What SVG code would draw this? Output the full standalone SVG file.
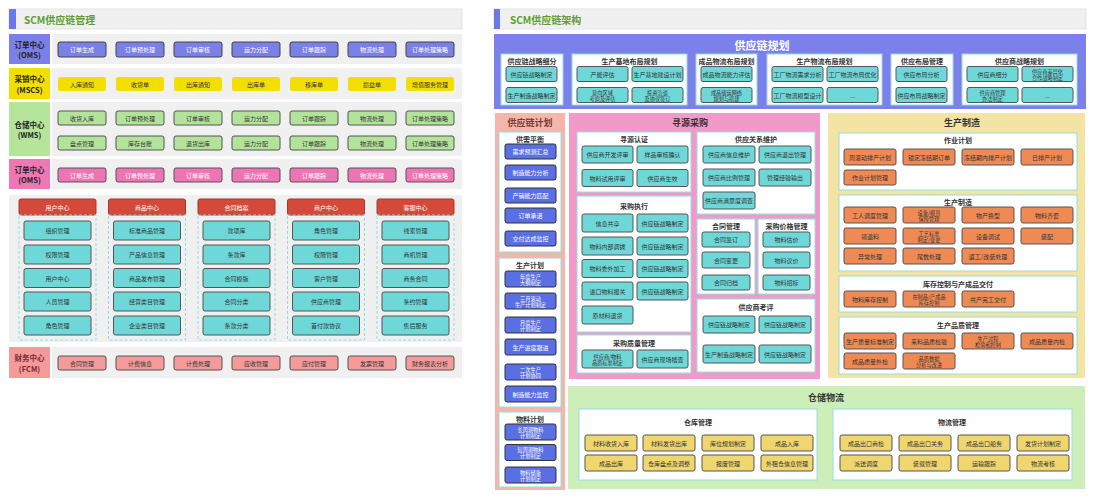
<svg xmlns="http://www.w3.org/2000/svg" width="1095" height="500" viewBox="0 0 1095 500">
<style>
text{font-family:"Noto Sans CJK SC","Noto Sans",sans-serif;text-anchor:middle;dominant-baseline:central;font-size:6px;fill:#333}
.t2{font-size:5.2px}
.w{fill:#fff}
.lbl{font-size:7.5px;font-weight:bold;fill:#222}
.sub{font-size:7px;font-weight:bold;fill:#333}
.big{font-size:9px;font-weight:bold;fill:#333}
.bg{fill:#f0f0f0}
.bb{fill:#7b80e6;stroke:#444;stroke-width:1}
.yb{fill:#f2df00}
.gb{fill:#b3e39a;stroke:#555;stroke-width:1}
.pb{fill:#ee75b4;stroke:#555;stroke-width:1}
.fb{fill:#f39a9a;stroke:#555;stroke-width:1}
.tl{fill:#6ed8d8;stroke:#555;stroke-width:1}
.rh{fill:#d4493a;stroke:#a33a2e;stroke-width:1}
.db{fill:#5b6fe4;stroke:#333;stroke-width:1}
.or{fill:#f08a55;stroke:#555;stroke-width:1}
.gd{fill:#efd66e;stroke:#555;stroke-width:1}
.wb{fill:#fff;stroke:#8fe0e0;stroke-width:1}
.ds{fill:none;stroke:#8fdde3;stroke-width:1;stroke-dasharray:3 2}
</style>
<rect width="1095" height="500" fill="#fff"/>

<!-- LEFT PANEL -->
<g id="left-title">
<rect x="9" y="9" width="453" height="20" fill="#f0f0f0" stroke="#e4e4e4"/>
<rect x="9" y="9" width="7" height="20" fill="#6b78e8"/>
<text x="24" y="19.5" style="text-anchor:start;font-size:10px;font-weight:bold;fill:#5c9e35">SCM供应链管理</text>
</g>

<g id="oms1">
<rect x="9" y="34" width="41" height="30" fill="#7b80e6"/>
<text x="29.5" y="44.5" class="lbl">订单中心</text><text x="29.5" y="54.5" class="lbl">(OMS)</text>
<rect x="52" y="34" width="410" height="30" class="bg"/>
<rect x="58" y="42" width="48" height="15" rx="2" class="bb"/><text x="82" y="49.5" class="w">订单生成</text>
<rect x="116" y="42" width="48" height="15" rx="2" class="bb"/><text x="140" y="49.5" class="w">订单预处理</text>
<rect x="174" y="42" width="48" height="15" rx="2" class="bb"/><text x="198" y="49.5" class="w">订单审核</text>
<rect x="232" y="42" width="48" height="15" rx="2" class="bb"/><text x="256" y="49.5" class="w">运力分配</text>
<rect x="290" y="42" width="48" height="15" rx="2" class="bb"/><text x="314" y="49.5" class="w">订单跟踪</text>
<rect x="348" y="42" width="48" height="15" rx="2" class="bb"/><text x="372" y="49.5" class="w">物流处理</text>
<rect x="406" y="42" width="48" height="15" rx="2" class="bb"/><text x="430" y="49.5" class="w">订单处理策略</text>
</g>

<g id="mscs">
<rect x="9" y="68" width="41" height="31" fill="#f2df00"/>
<text x="29.5" y="78.5" class="lbl">采销中心</text><text x="29.5" y="89" class="lbl">(MSCS)</text>
<rect x="52" y="68" width="410" height="31" class="bg"/>
<rect x="58" y="77" width="48" height="14" rx="2" class="yb"/><text x="82" y="84">入库通知</text>
<rect x="116" y="77" width="48" height="14" rx="2" class="yb"/><text x="140" y="84">收货单</text>
<rect x="174" y="77" width="48" height="14" rx="2" class="yb"/><text x="198" y="84">出库通知</text>
<rect x="232" y="77" width="48" height="14" rx="2" class="yb"/><text x="256" y="84">出库单</text>
<rect x="290" y="77" width="48" height="14" rx="2" class="yb"/><text x="314" y="84">移库单</text>
<rect x="348" y="77" width="48" height="14" rx="2" class="yb"/><text x="372" y="84">损益单</text>
<rect x="406" y="77" width="48" height="14" rx="2" class="yb"/><text x="430" y="84">增值服务管理</text>
</g>

<g id="wms">
<rect x="9" y="102" width="41" height="54" fill="#b5e59b"/>
<text x="29.5" y="124" class="lbl">仓储中心</text><text x="29.5" y="134.5" class="lbl">(WMS)</text>
<rect x="52" y="102" width="410" height="54" class="bg"/>
<rect x="58" y="111" width="48" height="14" rx="2" class="gb"/><text x="82" y="118">收货入库</text>
<rect x="116" y="111" width="48" height="14" rx="2" class="gb"/><text x="140" y="118">订单预处理</text>
<rect x="174" y="111" width="48" height="14" rx="2" class="gb"/><text x="198" y="118">订单审核</text>
<rect x="232" y="111" width="48" height="14" rx="2" class="gb"/><text x="256" y="118">运力分配</text>
<rect x="290" y="111" width="48" height="14" rx="2" class="gb"/><text x="314" y="118">订单跟踪</text>
<rect x="348" y="111" width="48" height="14" rx="2" class="gb"/><text x="372" y="118">物流处理</text>
<rect x="406" y="111" width="48" height="14" rx="2" class="gb"/><text x="430" y="118">订单处理策略</text>
<rect x="58" y="136" width="48" height="14" rx="2" class="gb"/><text x="82" y="143">盘点管理</text>
<rect x="116" y="136" width="48" height="14" rx="2" class="gb"/><text x="140" y="143">库存台账</text>
<rect x="174" y="136" width="48" height="14" rx="2" class="gb"/><text x="198" y="143">退货出库</text>
<rect x="232" y="136" width="48" height="14" rx="2" class="gb"/><text x="256" y="143">运力分配</text>
<rect x="290" y="136" width="48" height="14" rx="2" class="gb"/><text x="314" y="143">订单跟踪</text>
<rect x="348" y="136" width="48" height="14" rx="2" class="gb"/><text x="372" y="143">物流处理</text>
<rect x="406" y="136" width="48" height="14" rx="2" class="gb"/><text x="430" y="143">订单处理策略</text>
</g>

<g id="oms2">
<rect x="9" y="159" width="41" height="30" fill="#ee77b5"/>
<text x="29.5" y="169.5" class="lbl">订单中心</text><text x="29.5" y="179.5" class="lbl">(OMS)</text>
<rect x="52" y="159" width="410" height="30" class="bg"/>
<rect x="58" y="168" width="48" height="14" rx="2" class="pb"/><text x="82" y="175" class="w">订单生成</text>
<rect x="116" y="168" width="48" height="14" rx="2" class="pb"/><text x="140" y="175" class="w">订单预处理</text>
<rect x="174" y="168" width="48" height="14" rx="2" class="pb"/><text x="198" y="175" class="w">订单审核</text>
<rect x="232" y="168" width="48" height="14" rx="2" class="pb"/><text x="256" y="175" class="w">运力分配</text>
<rect x="290" y="168" width="48" height="14" rx="2" class="pb"/><text x="314" y="175" class="w">订单跟踪</text>
<rect x="348" y="168" width="48" height="14" rx="2" class="pb"/><text x="372" y="175" class="w">物流处理</text>
<rect x="406" y="168" width="48" height="14" rx="2" class="pb"/><text x="430" y="175" class="w">订单处理策略</text>
</g>

<g id="centers">
<rect x="9" y="195" width="453" height="147" class="bg"/>
</g>
<g id="user-center">
<rect x="19" y="199" width="77" height="16" rx="2" class="rh"/><text x="57.5" y="207" class="w">用户中心</text>
<rect x="19" y="215" width="77" height="125" class="ds"/>
<rect x="24" y="221" width="67" height="19" rx="2" class="tl"/><text x="57.5" y="230.5">组织管理</text>
<rect x="24" y="245" width="67" height="19" rx="2" class="tl"/><text x="57.5" y="254.5">权限管理</text>
<rect x="24" y="268.5" width="67" height="19" rx="2" class="tl"/><text x="57.5" y="278">用户中心</text>
<rect x="24" y="292" width="67" height="19" rx="2" class="tl"/><text x="57.5" y="301.5">人员管理</text>
<rect x="24" y="316" width="67" height="19" rx="2" class="tl"/><text x="57.5" y="325.5">角色管理</text>
</g>
<g id="goods-center">
<rect x="108.5" y="199" width="77" height="16" rx="2" class="rh"/><text x="147" y="207" class="w">商品中心</text>
<rect x="108.5" y="215" width="77" height="125" class="ds"/>
<rect x="113.5" y="221" width="67" height="19" rx="2" class="tl"/><text x="147" y="230.5">标准商品管理</text>
<rect x="113.5" y="245" width="67" height="19" rx="2" class="tl"/><text x="147" y="254.5">产品信息管理</text>
<rect x="113.5" y="268.5" width="67" height="19" rx="2" class="tl"/><text x="147" y="278">商品发布管理</text>
<rect x="113.5" y="292" width="67" height="19" rx="2" class="tl"/><text x="147" y="301.5">经营类目管理</text>
<rect x="113.5" y="316" width="67" height="19" rx="2" class="tl"/><text x="147" y="325.5">企业类目管理</text>
</g>
<g id="contract-archive">
<rect x="198" y="199" width="77" height="16" rx="2" class="rh"/><text x="236.5" y="207" class="w">合同档案</text>
<rect x="198" y="215" width="77" height="125" class="ds"/>
<rect x="203" y="221" width="67" height="19" rx="2" class="tl"/><text x="236.5" y="230.5">款项库</text>
<rect x="203" y="245" width="67" height="19" rx="2" class="tl"/><text x="236.5" y="254.5">条款库</text>
<rect x="203" y="268.5" width="67" height="19" rx="2" class="tl"/><text x="236.5" y="278">合同模版</text>
<rect x="203" y="292" width="67" height="19" rx="2" class="tl"/><text x="236.5" y="301.5">合同分类</text>
<rect x="203" y="316" width="67" height="19" rx="2" class="tl"/><text x="236.5" y="325.5">条款分类</text>
</g>
<g id="merchant-center">
<rect x="287.5" y="199" width="77" height="16" rx="2" class="rh"/><text x="326" y="207" class="w">商户中心</text>
<rect x="287.5" y="215" width="77" height="125" class="ds"/>
<rect x="292.5" y="221" width="67" height="19" rx="2" class="tl"/><text x="326" y="230.5">角色管理</text>
<rect x="292.5" y="245" width="67" height="19" rx="2" class="tl"/><text x="326" y="254.5">权限管理</text>
<rect x="292.5" y="268.5" width="67" height="19" rx="2" class="tl"/><text x="326" y="278">客户管理</text>
<rect x="292.5" y="292" width="67" height="19" rx="2" class="tl"/><text x="326" y="301.5">供应商管理</text>
<rect x="292.5" y="316" width="67" height="19" rx="2" class="tl"/><text x="326" y="325.5">首付款协议</text>
</g>
<g id="service-center">
<rect x="377" y="199" width="77" height="16" rx="2" class="rh"/><text x="415.5" y="207" class="w">客服中心</text>
<rect x="377" y="215" width="77" height="125" class="ds"/>
<rect x="382" y="221" width="67" height="19" rx="2" class="tl"/><text x="415.5" y="230.5">线索管理</text>
<rect x="382" y="245" width="67" height="19" rx="2" class="tl"/><text x="415.5" y="254.5">商机管理</text>
<rect x="382" y="268.5" width="67" height="19" rx="2" class="tl"/><text x="415.5" y="278">商务合同</text>
<rect x="382" y="292" width="67" height="19" rx="2" class="tl"/><text x="415.5" y="301.5">条约管理</text>
<rect x="382" y="316" width="67" height="19" rx="2" class="tl"/><text x="415.5" y="325.5">售后服务</text>
</g>

<g id="fcm">
<rect x="9" y="347" width="41" height="31" fill="#f49a9a"/>
<text x="29.5" y="357.5" class="lbl" style="fill:#7a2a2a">财务中心</text><text x="29.5" y="368" class="lbl" style="fill:#7a2a2a">(FCM)</text>
<rect x="52" y="347" width="410" height="31" class="bg"/>
<rect x="58" y="356" width="48" height="14" rx="2" class="fb"/><text x="82" y="363">合同管理</text>
<rect x="116" y="356" width="48" height="14" rx="2" class="fb"/><text x="140" y="363">计费信息</text>
<rect x="174" y="356" width="48" height="14" rx="2" class="fb"/><text x="198" y="363">计费处理</text>
<rect x="232" y="356" width="48" height="14" rx="2" class="fb"/><text x="256" y="363">应收管理</text>
<rect x="290" y="356" width="48" height="14" rx="2" class="fb"/><text x="314" y="363">应付管理</text>
<rect x="348" y="356" width="48" height="14" rx="2" class="fb"/><text x="372" y="363">发票管理</text>
<rect x="406" y="356" width="48" height="14" rx="2" class="fb"/><text x="430" y="363">财务报表分析</text>
</g>

<!-- RIGHT PANEL -->
<g id="right-title">
<rect x="494" y="9" width="592" height="20" fill="#f0f0f0" stroke="#e4e4e4"/>
<rect x="494" y="9" width="6" height="20" fill="#6b78e8"/>
<text x="510" y="19.5" style="text-anchor:start;font-size:10px;font-weight:bold;fill:#5c9e35">SCM供应链架构</text>
</g>

<g id="planning">
<rect x="494" y="34" width="592" height="75" fill="#7b80ea"/>
<text x="762" y="45" style="font-size:11px;font-weight:bold;fill:#fff">供应链规划</text>
</g>
<g id="plan-segment">
<rect x="501" y="54" width="62" height="51" class="wb"/><text x="532" y="60.5" class="sub">供应链战略细分</text>
<rect x="506" y="66.5" width="51" height="15" rx="2" class="tl"/><text x="531.5" y="74">供应链战略制定</text>
<rect x="506" y="87.5" width="51" height="15" rx="2" class="tl"/><text x="531.5" y="95">生产制造战略制定</text>
</g>
<g id="plan-base">
<rect x="572" y="54" width="115" height="51" class="wb"/><text x="629.5" y="60.5" class="sub">生产基地布局规划</text>
<rect x="577" y="66.5" width="51" height="15" rx="2" class="tl"/><text x="602.5" y="74">产能评估</text>
<rect x="632" y="66.5" width="51" height="15" rx="2" class="tl"/><text x="657.5" y="74">生产基地建设计划</text>
<rect x="577" y="87.5" width="51" height="15" rx="2" class="tl"/><text x="602.5" y="92" class="t2">意向区域</text><text x="602.5" y="98" class="t2">考察及评估</text>
<rect x="632" y="87.5" width="51" height="15" rx="2" class="tl"/><text x="657.5" y="92" class="t2">投资洽谈</text><text x="657.5" y="98" class="t2">及协议签订</text>
</g>
<g id="plan-product-logistics">
<rect x="696" y="54" width="61" height="51" class="wb"/><text x="726.5" y="60.5" class="sub">成品物流布局规划</text>
<rect x="701" y="66.5" width="51" height="15" rx="2" class="tl"/><text x="726.5" y="74">成品物流能力评估</text>
<rect x="701" y="87.5" width="51" height="15" rx="2" class="tl"/><text x="726.5" y="92" class="t2">成品储运网络</text><text x="726.5" y="98" class="t2">规划与搭建</text>
</g>
<g id="plan-production-logistics">
<rect x="767" y="54" width="115" height="51" class="wb"/><text x="824.5" y="60.5" class="sub">生产物流布局规划</text>
<rect x="772" y="66.5" width="51" height="15" rx="2" class="tl"/><text x="797.5" y="74">工厂物流需求分析</text>
<rect x="827" y="66.5" width="51" height="15" rx="2" class="tl"/><text x="852.5" y="74">工厂物流布局优化</text>
<rect x="772" y="87.5" width="51" height="15" rx="2" class="tl"/><text x="797.5" y="95">工厂物流模型设计</text>
<rect x="827" y="87.5" width="51" height="15" rx="2" class="tl"/><text x="852.5" y="95">...</text>
</g>
<g id="plan-supply-layout">
<rect x="891" y="54" width="62" height="51" class="wb"/><text x="922" y="60.5" class="sub">供应布局管理</text>
<rect x="896" y="66.5" width="51" height="15" rx="2" class="tl"/><text x="921.5" y="74">供应布局分析</text>
<rect x="896" y="87.5" width="51" height="15" rx="2" class="tl"/><text x="921.5" y="95">供应布局战略制定</text>
</g>
<g id="plan-supplier-strategy">
<rect x="962" y="54" width="115" height="51" class="wb"/><text x="1019.5" y="60.5" class="sub">供应商战略规划</text>
<rect x="967" y="66.5" width="51" height="15" rx="2" class="tl"/><text x="992.5" y="74">供应商细分</text>
<rect x="1022" y="66.5" width="51" height="15" rx="2" class="tl"/><text x="1047.5" y="71" class="t2">供应商差异化</text><text x="1047.5" y="77" class="t2">合作战略制定</text>
<rect x="967" y="87.5" width="51" height="15" rx="2" class="tl"/><text x="992.5" y="92" class="t2">供应商管理</text><text x="992.5" y="98" class="t2">办法制定</text>
<rect x="1022" y="87.5" width="51" height="15" rx="2" class="tl"/><text x="1047.5" y="95">...</text>
</g>

<g id="sc-plan">
<rect x="495" y="113" width="70" height="377" fill="#f5b5ab"/>
<text x="530" y="122" class="big" style="fill:#7a3b30">供应链计划</text>
</g>
<g id="supply-demand">
<rect x="499" y="132" width="62" height="120" class="wb"/><text x="530" y="138.5" class="sub">供需平衡</text>
<rect x="505" y="144" width="51" height="15" rx="2" class="db"/><text x="530.5" y="151.5" class="w">需求预测汇总</text>
<rect x="505" y="165" width="51" height="15" rx="2" class="db"/><text x="530.5" y="172.5" class="w">制造能力分析</text>
<rect x="505" y="188" width="51" height="15" rx="2" class="db"/><text x="530.5" y="195.5" class="w">产销能力匹配</text>
<rect x="505" y="208" width="51" height="15" rx="2" class="db"/><text x="530.5" y="215.5" class="w">订单承诺</text>
<rect x="505" y="231" width="51" height="15" rx="2" class="db"/><text x="530.5" y="238.5" class="w">交付达成监控</text>
</g>
<g id="production-plan">
<rect x="499" y="258" width="62" height="149" class="wb"/><text x="530" y="264.5" class="sub">生产计划</text>
<rect x="505" y="271" width="51" height="16" rx="2" class="db"/><text x="530.5" y="276" class="w t2">年度生产</text><text x="530.5" y="282" class="w t2">大纲制定</text>
<rect x="505" y="293" width="51" height="16" rx="2" class="db"/><text x="530.5" y="298" class="w t2">三月滚动</text><text x="530.5" y="304" class="w t2">生产计划制定</text>
<rect x="505" y="317" width="51" height="16" rx="2" class="db"/><text x="530.5" y="322" class="w t2">月度生产</text><text x="530.5" y="328" class="w t2">计划制定</text>
<rect x="505" y="339" width="51" height="16" rx="2" class="db"/><text x="530.5" y="347" class="w">生产进度跟进</text>
<rect x="505" y="364" width="51" height="16" rx="2" class="db"/><text x="530.5" y="369" class="w t2">二次生产</text><text x="530.5" y="375" class="w t2">计划协同</text>
<rect x="505" y="386" width="51" height="16" rx="2" class="db"/><text x="530.5" y="394" class="w">制造能力监控</text>
</g>
<g id="material-plan">
<rect x="499" y="412" width="62" height="75" class="wb"/><text x="530" y="418.5" class="sub">物料计划</text>
<rect x="505" y="424" width="51" height="16" rx="2" class="db"/><text x="530.5" y="429" class="w t2">长周期物料</text><text x="530.5" y="435" class="w t2">计划制定</text>
<rect x="505" y="444.5" width="51" height="16" rx="2" class="db"/><text x="530.5" y="449.5" class="w t2">短周期物料</text><text x="530.5" y="455.5" class="w t2">计划制定</text>
<rect x="505" y="467" width="51" height="16" rx="2" class="db"/><text x="530.5" y="472" class="w t2">物料储备</text><text x="530.5" y="478" class="w t2">计划制定</text>
</g>

<g id="sourcing">
<rect x="569" y="113" width="251" height="266" fill="#f19ac9"/>
<text x="690" y="122" class="big">寻源采购</text>
</g>
<g id="source-cert">
<rect x="577" y="132" width="114" height="60" class="wb"/><text x="634" y="139" class="sub">寻源认证</text>
<rect x="582" y="146" width="51" height="17" rx="2" class="tl"/><text x="607.5" y="154.5">供应商开发评审</text>
<rect x="637" y="146" width="51" height="17" rx="2" class="tl"/><text x="662.5" y="154.5">样品审核确认</text>
<rect x="582" y="169.5" width="51" height="17" rx="2" class="tl"/><text x="607.5" y="178">物料试用评审</text>
<rect x="637" y="169.5" width="51" height="17" rx="2" class="tl"/><text x="662.5" y="178">供应商生效</text>
</g>
<g id="purchase-exec">
<rect x="577" y="196" width="114" height="136" class="wb"/><text x="634" y="205.5" class="sub">采购执行</text>
<rect x="582" y="214" width="51" height="18" rx="2" class="tl"/><text x="607.5" y="223">信息共享</text>
<rect x="637" y="214" width="51" height="18" rx="2" class="tl"/><text x="662.5" y="223">供应链战略制定</text>
<rect x="582" y="237" width="51" height="18" rx="2" class="tl"/><text x="607.5" y="246">物料内部调拨</text>
<rect x="637" y="237" width="51" height="18" rx="2" class="tl"/><text x="662.5" y="246">供应链战略制定</text>
<rect x="582" y="259.5" width="51" height="18" rx="2" class="tl"/><text x="607.5" y="268.5">物料委外加工</text>
<rect x="637" y="259.5" width="51" height="18" rx="2" class="tl"/><text x="662.5" y="268.5">供应链战略制定</text>
<rect x="582" y="282" width="51" height="18" rx="2" class="tl"/><text x="607.5" y="291">进口物料报关</text>
<rect x="637" y="282" width="51" height="18" rx="2" class="tl"/><text x="662.5" y="291">供应链战略制定</text>
<rect x="582" y="306" width="51" height="18" rx="2" class="tl"/><text x="607.5" y="315">原材料退货</text>
</g>
<g id="purchase-quality">
<rect x="577" y="335" width="114" height="38" class="wb"/><text x="634" y="343" class="sub">采购质量管理</text>
<rect x="582" y="350" width="51" height="18" rx="2" class="tl"/><text x="607.5" y="356" class="t2">供应商/物料</text><text x="607.5" y="362" class="t2">品质标准制定</text>
<rect x="637" y="350" width="51" height="18" rx="2" class="tl"/><text x="662.5" y="359">供应商现场稽查</text>
</g>
<g id="supplier-relation">
<rect x="697" y="132" width="118" height="82" class="wb"/><text x="756" y="139" class="sub">供应关系维护</text>
<rect x="703" y="146" width="52" height="17" rx="2" class="tl"/><text x="729" y="154.5">供应商信息维护</text>
<rect x="759" y="146" width="52" height="17" rx="2" class="tl"/><text x="785" y="154.5">供应商退出管理</text>
<rect x="703" y="169" width="52" height="17" rx="2" class="tl"/><text x="729" y="177.5">供应商比例管理</text>
<rect x="759" y="169" width="52" height="17" rx="2" class="tl"/><text x="785" y="177.5">管理经验输出</text>
<rect x="703" y="192" width="52" height="17" rx="2" class="tl"/><text x="729" y="200.5">供应商满意度调查</text>
</g>
<g id="contract-mgmt">
<rect x="697" y="219" width="58" height="75" class="wb"/><text x="726" y="225.5" class="sub">合同管理</text>
<rect x="702" y="232" width="48" height="15" rx="2" class="tl"/><text x="726" y="239.5">合同签订</text>
<rect x="702" y="252" width="48" height="16" rx="2" class="tl"/><text x="726" y="260">合同变更</text>
<rect x="702" y="275" width="48" height="15" rx="2" class="tl"/><text x="726" y="282.5">合同归档</text>
</g>
<g id="price-mgmt">
<rect x="758" y="219" width="57" height="75" class="wb"/><text x="786.5" y="225.5" class="sub">采购价格管理</text>
<rect x="763" y="232" width="47" height="15" rx="2" class="tl"/><text x="786.5" y="239.5">物料估价</text>
<rect x="763" y="252" width="47" height="16" rx="2" class="tl"/><text x="786.5" y="260">物料议价</text>
<rect x="763" y="275" width="47" height="15" rx="2" class="tl"/><text x="786.5" y="282.5">物料招标</text>
</g>
<g id="supplier-eval">
<rect x="697" y="299" width="118" height="73" class="wb"/><text x="756" y="307" class="sub">供应商考评</text>
<rect x="703" y="316" width="52" height="17" rx="2" class="tl"/><text x="729" y="324.5">供应链战略制定</text>
<rect x="759" y="316" width="52" height="17" rx="2" class="tl"/><text x="785" y="324.5">供应链战略制定</text>
<rect x="703" y="345" width="52" height="18" rx="2" class="tl"/><text x="729" y="354">生产制造战略制定</text>
<rect x="759" y="345" width="52" height="18" rx="2" class="tl"/><text x="785" y="354">供应链战略制定</text>
</g>

<g id="manufacturing">
<rect x="828" y="113" width="257" height="265" fill="#f4e4a4"/>
<text x="962" y="122" class="big">生产制造</text>
</g>
<g id="job-plan">
<rect x="839" y="133" width="238" height="57" class="wb"/><text x="958" y="140" class="sub">作业计划</text>
<rect x="844" y="149" width="52" height="16" rx="2" class="or"/><text x="870" y="157">周滚动排产计划</text>
<rect x="903" y="149" width="52" height="16" rx="2" class="or"/><text x="929" y="157">锁定冻结期订单</text>
<rect x="962" y="149" width="52" height="16" rx="2" class="or"/><text x="988" y="157">冻结期内排产计划</text>
<rect x="1021" y="149" width="52" height="16" rx="2" class="or"/><text x="1047" y="157">日排产计划</text>
<rect x="844" y="170" width="52" height="15" rx="2" class="or"/><text x="870" y="177.5">作业计划管理</text>
</g>
<g id="production-mfg">
<rect x="839" y="195" width="238" height="76" class="wb"/><text x="958" y="202" class="sub">生产制造</text>
<rect x="844" y="207" width="52" height="16" rx="2" class="or"/><text x="870" y="215">工人调度管理</text>
<rect x="903" y="207" width="52" height="16" rx="2" class="or"/><text x="929" y="212" class="t2">设备/模具</text><text x="929" y="218" class="t2">保障管理</text>
<rect x="962" y="207" width="52" height="16" rx="2" class="or"/><text x="988" y="215">物产换型</text>
<rect x="1021" y="207" width="52" height="16" rx="2" class="or"/><text x="1047" y="215">物料齐套</text>
<rect x="844" y="228" width="52" height="16" rx="2" class="or"/><text x="870" y="236">领退料</text>
<rect x="903" y="228" width="52" height="16" rx="2" class="or"/><text x="929" y="233" class="t2">工艺标准</text><text x="929" y="239" class="t2">制定/变更</text>
<rect x="962" y="228" width="52" height="16" rx="2" class="or"/><text x="988" y="236">设备调试</text>
<rect x="1021" y="228" width="52" height="16" rx="2" class="or"/><text x="1047" y="236">装配</text>
<rect x="844" y="248" width="52" height="16" rx="2" class="or"/><text x="870" y="256">异常处理</text>
<rect x="903" y="248" width="52" height="16" rx="2" class="or"/><text x="929" y="256">尾数处理</text>
<rect x="962" y="248" width="52" height="16" rx="2" class="or"/><text x="988" y="256">返工/改装处理</text>
</g>
<g id="inventory-delivery">
<rect x="839" y="276" width="238" height="36" class="wb"/><text x="958" y="284" class="sub">库存控制与产成品交付</text>
<rect x="844" y="291" width="52" height="16" rx="2" class="or"/><text x="870" y="299">物料库存控制</text>
<rect x="903" y="291" width="52" height="16" rx="2" class="or"/><text x="929" y="296" class="t2">在制品/产成品</text><text x="929" y="302" class="t2">库存控制</text>
<rect x="962" y="291" width="52" height="16" rx="2" class="or"/><text x="988" y="299">共产完工交付</text>
</g>
<g id="production-quality">
<rect x="839" y="317" width="238" height="57" class="wb"/><text x="958" y="325" class="sub">生产品质管理</text>
<rect x="844" y="333" width="52" height="16" rx="2" class="or"/><text x="870" y="341">生产质量标准制定</text>
<rect x="903" y="333" width="52" height="16" rx="2" class="or"/><text x="929" y="341">来料品质检验</text>
<rect x="962" y="333" width="52" height="16" rx="2" class="or"/><text x="988" y="338" class="t2">生产过程</text><text x="988" y="344" class="t2">检验和控制</text>
<rect x="1021" y="333" width="52" height="16" rx="2" class="or"/><text x="1047" y="341">成品质量内检</text>
<rect x="844" y="353" width="52" height="16" rx="2" class="or"/><text x="870" y="361">成品质量外检</text>
<rect x="903" y="353" width="52" height="16" rx="2" class="or"/><text x="929" y="358" class="t2">品质数据</text><text x="929" y="364" class="t2">分析与改进</text>
</g>

<g id="warehouse-logistics">
<rect x="568" y="386" width="517" height="103" fill="#cdeeb9"/>
<text x="826" y="397" class="big">仓储物流</text>
</g>
<g id="warehouse-mgmt">
<rect x="579" y="409" width="238" height="71" class="wb"/><text x="698" y="422" class="sub">仓库管理</text>
<rect x="585" y="435" width="52" height="16" rx="2" class="gd"/><text x="611" y="443">材料收货入库</text>
<rect x="643" y="435" width="52" height="16" rx="2" class="gd"/><text x="669" y="443">材料发货出库</text>
<rect x="702" y="435" width="52" height="16" rx="2" class="gd"/><text x="728" y="443">库位规划制定</text>
<rect x="761" y="435" width="52" height="16" rx="2" class="gd"/><text x="787" y="443">成品入库</text>
<rect x="585" y="455" width="52" height="16" rx="2" class="gd"/><text x="611" y="463">成品出库</text>
<rect x="643" y="455" width="52" height="16" rx="2" class="gd"/><text x="669" y="463">仓库盘点及调整</text>
<rect x="702" y="455" width="52" height="16" rx="2" class="gd"/><text x="728" y="463">报废管理</text>
<rect x="761" y="455" width="52" height="16" rx="2" class="gd"/><text x="787" y="463">外租仓信息管理</text>
</g>
<g id="logistics-mgmt">
<rect x="833" y="409" width="239" height="71" class="wb"/><text x="952" y="422" class="sub">物流管理</text>
<rect x="840" y="435" width="52" height="16" rx="2" class="gd"/><text x="866" y="443">成品出口商检</text>
<rect x="899" y="435" width="52" height="16" rx="2" class="gd"/><text x="925" y="443">成品出口关务</text>
<rect x="958" y="435" width="52" height="16" rx="2" class="gd"/><text x="984" y="443">成品出口船务</text>
<rect x="1017" y="435" width="52" height="16" rx="2" class="gd"/><text x="1043" y="443">发货计划制定</text>
<rect x="840" y="455" width="52" height="16" rx="2" class="gd"/><text x="866" y="463">派送调度</text>
<rect x="899" y="455" width="52" height="16" rx="2" class="gd"/><text x="925" y="463">装载管理</text>
<rect x="958" y="455" width="52" height="16" rx="2" class="gd"/><text x="984" y="463">运输跟踪</text>
<rect x="1017" y="455" width="52" height="16" rx="2" class="gd"/><text x="1043" y="463">物流考核</text>
</g>
<g id="connectors"></g>
</svg>
